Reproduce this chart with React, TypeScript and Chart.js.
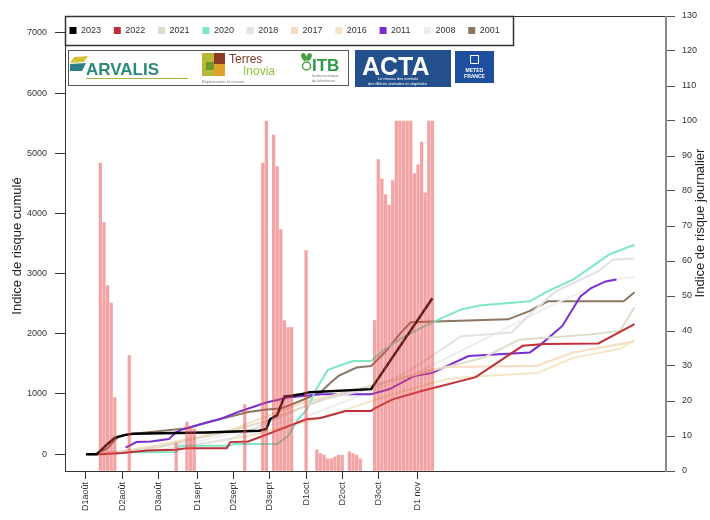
import React, { useEffect, useRef } from 'react';
import { Chart, registerables } from 'chart.js';
Chart.register(...registerables);

// ---------- DATA ----------
const tickDays = [0, 10, 20, 31, 41, 51, 61, 71, 81, 92];
const tickLabels = ['D1août', 'D2août', 'D3août', 'D1sept', 'D2sept', 'D3sept', 'D1oct', 'D2oct', 'D3oct', 'D1 nov'];
const leftTicks = [0, 1000, 2000, 3000, 4000, 5000, 6000, 7000];
const rightTicks = [0, 10, 20, 30, 40, 50, 60, 70, 80, 90, 100, 110, 120, 130];

// daily risk index (bars, right axis)
const riskDays = [4, 5, 6, 7, 8, 12, 25, 28, 29, 30, 44, 49, 50, 52, 53, 54, 55, 56, 57, 61,
  64, 65, 66, 67, 68, 69, 70, 71, 73, 74, 75, 76,
  80, 81, 82, 83, 84, 85, 86, 87, 88, 89, 90, 91, 92, 93, 94, 95, 96];
const riskValues = [88, 71, 53, 48, 21, 33, 8, 14, 12.5, 12, 19, 88, 100, 96, 87, 69, 43, 41, 41, 63,
  6, 5, 4.5, 3.5, 3.5, 4, 4.5, 4.5, 5.5, 5, 4.5, 3.5,
  43, 89, 83.5, 79, 76, 83, 100, 100, 100, 100, 100, 85, 87.5, 94, 79.5, 100, 100];

// cumulative risk index per year (lines, left axis)
const days2023 = [0, 3, 6, 8, 11, 13, 33, 48, 50, 51, 53, 55, 57, 60, 62, 79, 96];
const vals2023 = [0, 0, 170, 270, 320, 340, 360, 390, 420, 580, 650, 960, 970, 1000, 1030, 1080, 2590];

const days2022 = [0, 4, 10, 17, 25, 28, 39, 40, 45, 54, 61, 65, 72, 79, 80, 85, 93, 108, 121, 127, 142, 152];
const vals2022 = [0, 0, 20, 60, 75, 100, 100, 200, 210, 415, 580, 600, 718, 718, 760, 910, 1050, 1280, 1800, 1830, 1840, 2160];

const days2021 = [0, 10, 20, 30, 40, 50, 60, 70, 80, 90, 100, 110, 120, 140, 148, 152];
const vals2021 = [0, 50, 120, 250, 380, 550, 780, 1000, 1150, 1300, 1450, 1600, 1900, 1990, 2050, 2440];

const days2020 = [9, 25, 26, 40, 41, 53, 56, 59, 61, 64, 67, 70, 74, 79, 83, 88, 96, 104, 109, 123, 128, 135, 141, 145, 152];
const vals2020 = [30, 35, 140, 140, 170, 170, 300, 600, 720, 1100, 1400, 1465, 1548, 1548, 1750, 1950, 2190, 2405, 2470, 2540, 2710, 2900, 3150, 3320, 3480];

const days2018 = [5, 20, 40, 55, 65, 80, 90, 100, 104, 118, 123, 130, 142, 146, 152];
const vals2018 = [0, 60, 250, 650, 900, 1100, 1400, 1800, 1960, 2020, 2320, 2700, 3040, 3230, 3250];

const days2017 = [5, 20, 40, 60, 80, 95, 100, 125, 135, 152];
const vals2017 = [0, 150, 400, 850, 1150, 1400, 1450, 1470, 1690, 1870];

const days2016 = [5, 25, 45, 65, 85, 100, 110, 125, 135, 148, 152];
const vals2016 = [0, 100, 300, 600, 1000, 1250, 1300, 1350, 1600, 1750, 1900];

const days2011 = [11, 14, 18, 23, 25, 27, 32, 37, 43, 50, 56, 65, 79, 84, 91, 96, 106, 123, 126, 132, 137, 140, 144, 147];
const vals2011 = [110, 200, 210, 250, 365, 415, 500, 580, 718, 857, 940, 995, 995, 1078, 1300, 1350, 1630, 1690, 1820, 2130, 2620, 2760, 2870, 2900];

const days2008 = [8, 30, 60, 90, 110, 130, 145, 152];
const vals2008 = [0, 200, 600, 1300, 1900, 2500, 2900, 2940];

const days2001 = [3, 6, 9, 12, 20, 28, 35, 45, 50, 54, 58, 62, 65, 68, 70, 75, 79, 83, 87, 90, 117, 123, 128, 149, 152];
const vals2001 = [0, 100, 300, 330, 380, 430, 550, 700, 740, 760, 850, 950, 1030, 1200, 1300, 1440, 1465, 1700, 2000, 2190, 2240, 2380, 2540, 2540, 2690];

const seriesNames = ['2023', '2022', '2021', '2020', '2018', '2017', '2016', '2011', '2008', '2001'];
const seriesDays = [days2023, days2022, days2021, days2020, days2018, days2017, days2016, days2011, days2008, days2001];
const seriesVals = [vals2023, vals2022, vals2021, vals2020, vals2018, vals2017, vals2016, vals2011, vals2008, vals2001];
const seriesColors = ['#000000', '#c0303a', '#dedbc8', '#7fe6c6', '#e2e2e6', '#f7dcc2', '#f4e6c6', '#7a2ed0', '#eeeeee', '#8a7662'];

const FONT = "'Liberation Sans', Arial, sans-serif";

const decorPlugin = {
  id: 'decor',
  afterDraw(chart: any) {
    const ctx = chart.ctx;
    const a = chart.chartArea;
    ctx.save();
    // frame
    ctx.strokeStyle = '#333';
    ctx.lineWidth = 1;
    ctx.strokeRect(a.left + 0.5, a.top + 0.5, a.right - a.left - 1, a.bottom - a.top);
    ctx.strokeStyle = '#8c8c8c';
    ctx.lineWidth = 2;
    ctx.beginPath();
    ctx.moveTo(a.right - 1, a.top);
    ctx.lineTo(a.right - 1, a.bottom + 1);
    ctx.stroke();

    // legend box
    const lx = a.left, ly = a.top, lw = 448, lh = 29;
    ctx.fillStyle = '#fff';
    ctx.fillRect(lx, ly, lw, lh);
    ctx.strokeStyle = '#333';
    ctx.lineWidth = 1.5;
    ctx.strokeRect(lx + 0.5, ly + 0.5, lw, lh);
    ctx.font = `9px ${FONT}`;
    ctx.textBaseline = 'middle';
    ctx.textAlign = 'left';
    const lines = chart.data.datasets.filter((d: any) => d.type === 'line');
    lines.forEach((d: any, i: number) => {
      const cx = lx + 8 + i * 44.3;
      const cy = ly + 14.5;
      ctx.fillStyle = d.borderColor;
      ctx.fillRect(cx - 3.5, cy - 3.5, 7, 7);
      ctx.fillStyle = '#333';
      ctx.fillText(d.label, cx + 8, cy + 0.5);
    });

    // logos
    ctx.strokeStyle = '#555';
    ctx.lineWidth = 1;
    ctx.strokeRect(68.5, 50.5, 280, 35);
    // ARVALIS
    ctx.fillStyle = '#d6c23a';
    ctx.beginPath(); ctx.moveTo(74, 57); ctx.lineTo(88, 56); ctx.lineTo(84, 62); ctx.lineTo(70, 63); ctx.closePath(); ctx.fill();
    ctx.fillStyle = '#2c7f86';
    ctx.beginPath(); ctx.moveTo(70, 64); ctx.lineTo(86, 63); ctx.lineTo(82, 71); ctx.lineTo(70, 71); ctx.closePath(); ctx.fill();
    ctx.fillStyle = '#2b8a78';
    ctx.font = `bold 17px ${FONT}`;
    ctx.textBaseline = 'alphabetic';
    ctx.fillText('ARVALIS', 86, 75);
    ctx.strokeStyle = '#9cb83a';
    ctx.beginPath(); ctx.moveTo(86, 78.5); ctx.lineTo(188, 78.5); ctx.stroke();
    // Terres Inovia
    ctx.fillStyle = '#b5b838'; ctx.fillRect(202, 53, 12, 23);
    ctx.fillStyle = '#8a3b22'; ctx.fillRect(214, 53, 11, 11);
    ctx.fillStyle = '#e0a22a'; ctx.fillRect(214, 64, 11, 12);
    ctx.fillStyle = '#6f9a2a'; ctx.fillRect(206, 62, 8, 8);
    ctx.fillStyle = '#7b3a22';
    ctx.font = `12px ${FONT}`;
    ctx.fillText('Terres', 229, 63);
    ctx.fillStyle = '#8cc63f';
    ctx.fillText('Inovia', 243, 75);
    ctx.fillStyle = '#777';
    ctx.font = `4px ${FONT}`;
    ctx.fillText('Expérimenter et innover', 202, 83);
    // ITB
    ctx.fillStyle = '#4aa040';
    ctx.beginPath(); ctx.ellipse(304, 57, 2.5, 4, -0.4, 0, Math.PI * 2); ctx.fill();
    ctx.beginPath(); ctx.ellipse(309, 57, 2.5, 4, 0.4, 0, Math.PI * 2); ctx.fill();
    ctx.strokeStyle = '#4aa040'; ctx.lineWidth = 1.5;
    ctx.beginPath(); ctx.arc(306.5, 66, 4, 0, Math.PI * 2); ctx.stroke();
    ctx.font = `bold 17px ${FONT}`;
    ctx.fillStyle = '#2e9a45';
    ctx.fillText('ITB', 312, 71);
    ctx.fillStyle = '#777';
    ctx.font = `3.5px ${FONT}`;
    ctx.fillText('Institut technique', 312, 77);
    ctx.fillText('de la betterave', 312, 82);
    // ACTA
    ctx.fillStyle = '#234f8a';
    ctx.fillRect(355, 50, 96, 37);
    ctx.fillStyle = '#ffffff';
    ctx.font = `bold 25px ${FONT}`;
    ctx.fillText('ACTA', 362, 75);
    ctx.font = `4px ${FONT}`;
    ctx.fillText('Le réseau des instituts', 378, 80);
    ctx.fillText('des filières animales et végétales', 368, 85);
    // METEO FRANCE
    ctx.fillStyle = '#1e4f9e';
    ctx.fillRect(455, 51, 39, 32);
    ctx.strokeStyle = '#fff'; ctx.lineWidth = 1;
    ctx.strokeRect(470.5, 55.5, 8, 8);
    ctx.fillStyle = '#fff';
    ctx.font = `bold 5px ${FONT}`;
    ctx.textAlign = 'center';
    ctx.fillText('METEO', 474.5, 72);
    ctx.fillText('FRANCE', 474.5, 78);

    // axis titles
    ctx.fillStyle = '#222';
    ctx.font = `13px ${FONT}`;
    ctx.textAlign = 'center';
    ctx.textBaseline = 'middle';
    ctx.save();
    ctx.translate(17, 246);
    ctx.rotate(-Math.PI / 2);
    ctx.fillText('Indice de risque cumulé', 0, 0);
    ctx.restore();
    ctx.save();
    ctx.translate(700, 223);
    ctx.rotate(-Math.PI / 2);
    ctx.fillText('Indice de risque journalier', 0, 0);
    ctx.restore();
    ctx.restore();
  },
};

export default function App() {
  const ref = useRef<HTMLCanvasElement | null>(null);
  useEffect(() => {
    if (!ref.current) return;
    const lineSets = seriesNames.map((name, i) => ({
      type: 'line' as const,
      label: name,
      data: seriesDays[i].map((d, j) => ({ x: d, y: seriesVals[i][j] })),
      borderColor: seriesColors[i],
      backgroundColor: seriesColors[i],
      borderWidth: i === 0 ? 2.5 : 2,
      pointRadius: 0,
      tension: 0,
      fill: false,
      yAxisID: 'y',
      order: i === 0 ? 1 : 2 + i,
    }));
    const barSet = {
      type: 'bar' as const,
      label: 'risque journalier',
      data: riskDays.map((d, j) => ({ x: d, y: riskValues[j] })),
      backgroundColor: 'rgba(232,72,72,0.5)',
      borderWidth: 0,
      barThickness: 2.6,
      yAxisID: 'y2',
      order: 0,
    };
    const chart = new Chart(ref.current, {
      type: 'line',
      data: { datasets: [...lineSets, barSet] as any },
      plugins: [decorPlugin],
      options: {
        animation: false,
        responsive: false,
        layout: { padding: { top: 16, left: 0, right: 0, bottom: 0 } },
        plugins: { legend: { display: false }, tooltip: { enabled: false } },
        scales: {
          x: {
            type: 'linear',
            min: -5.8,
            max: 161,
            offset: false,
            afterBuildTicks: (s: any) => { s.ticks = tickDays.map((v) => ({ value: v })); },
            afterFit: (s: any) => { s.height = 49; },
            ticks: {
              autoSkip: false,
              maxRotation: 90,
              minRotation: 90,
              padding: 3,
              color: '#333',
              font: { family: FONT, size: 9 },
              callback: (v: any) => tickLabels[tickDays.indexOf(Number(v))] ?? '',
            },
            grid: { drawOnChartArea: false, drawTicks: true, tickLength: 8, color: '#333', offset: false },
            border: { display: false },
          },
          y: {
            type: 'linear',
            position: 'left',
            min: -280,
            max: 7280,
            afterBuildTicks: (s: any) => { s.ticks = leftTicks.map((v) => ({ value: v })); },
            afterFit: (s: any) => { s.width = 65; },
            ticks: { padding: 8, color: '#333', font: { family: FONT, size: 9 }, callback: (v: any) => String(v) },
            grid: { drawOnChartArea: false, drawTicks: true, tickLength: 10, color: '#333' },
            border: { display: false },
          },
          y2: {
            type: 'linear',
            position: 'right',
            min: 0,
            max: 130,
            afterBuildTicks: (s: any) => { s.ticks = rightTicks.map((v) => ({ value: v })); },
            afterFit: (s: any) => { s.width = 43; },
            ticks: { padding: 7, color: '#333', font: { family: FONT, size: 9 }, callback: (v: any) => String(v) },
            grid: { drawOnChartArea: false, drawTicks: true, tickLength: 8, color: '#555' },
            border: { display: false },
          },
        },
      } as any,
    });
    return () => chart.destroy();
  }, []);
  return (
    <div style={{ position: 'absolute', left: 0, top: 0, width: 710, height: 520, background: '#fff' }}>
      <canvas ref={ref} width={710} height={520} />
    </div>
  );
}
